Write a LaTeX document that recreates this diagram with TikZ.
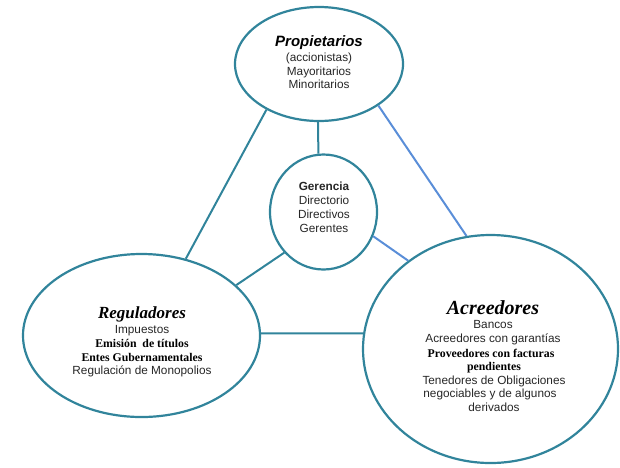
\documentclass[tikz,border=0pt]{standalone}
\usepackage{fontspec}
\setmainfont{Liberation Serif}
\setsansfont{Liberation Sans}
\usetikzlibrary{shapes.geometric}
\definecolor{rim}{HTML}{31849B}
\definecolor{link}{HTML}{5A8ED8}
\tikzset{
  party/.style={ellipse, draw=rim, line width=2.2pt, inner sep=0pt},
  teallink/.style={draw=rim, line width=2pt},
  bluelink/.style={draw=link, line width=2pt},
  sanstxt/.style={anchor=base, inner sep=0pt, text=black!85,
    font=\sffamily\fontsize{11.8}{13}\selectfont},
  boldtxt/.style={anchor=base, inner sep=0pt,
    font=\rmfamily\bfseries\fontsize{11.8}{13}\selectfont},
}
\begin{document}
\begin{tikzpicture}[x=1pt, y=-1pt]
  \useasboundingbox (0,0) rectangle (620,467);

  % the four groups
  \node[party, minimum width=168pt, minimum height=114pt] (prop) at (319,64) {};
  \node[party, minimum width=107pt, minimum height=115pt] (ger)  at (323.5,212) {};
  \node[party, minimum width=237pt, minimum height=163pt] (reg)  at (141.5,335.5) {};
  \node[party, minimum width=255pt, minimum height=228pt] (acr)  at (490.5,349) {};

  % connectors
  \draw[teallink] (prop.221) -- (reg.60);
  \draw[teallink] (prop.269) -- (ger.95);
  \draw[bluelink] (prop.325) -- (acr.102);
  \draw[teallink] (ger.226) -- (reg.28);
  \draw[bluelink] (ger.334) -- (acr.133);
  \draw[teallink] (reg.1) -- (acr.173);

  % Propietarios
  \node[anchor=base, inner sep=0pt, font=\sffamily\bfseries\itshape\fontsize{15}{18}\selectfont]
    (propT) at (319,46) {Propietarios};
  \node[sanstxt] (prop1) at (319,61) {(accionistas)};
  \node[sanstxt] (prop2) at (319,75) {Mayoritarios};
  \node[sanstxt] (prop3) at (319,88) {Minoritarios};

  % Gerencia
  \node[sanstxt, font=\sffamily\bfseries\fontsize{11.8}{13}\selectfont] (gerT) at (324,190) {Gerencia};
  \node[sanstxt] (ger1) at (324,204) {Directorio};
  \node[sanstxt] (ger2) at (324,218) {Directivos};
  \node[sanstxt] (ger3) at (324,232) {Gerentes};

  % Reguladores
  \node[anchor=base, inner sep=0pt, font=\rmfamily\bfseries\itshape\fontsize{17}{20}\selectfont]
    (regT) at (142,318) {Reguladores};
  \node[sanstxt] (reg1) at (142,333) {Impuestos};
  \node[boldtxt] (reg2) at (142,347) {Emisión\ \ de títulos};
  \node[boldtxt] (reg3) at (142,361) {Entes Gubernamentales};
  \node[sanstxt] (reg4) at (142,374) {Regulación de Monopolios};

  % Acreedores
  \node[anchor=base, inner sep=0pt, font=\rmfamily\bfseries\itshape\fontsize{20}{24}\selectfont]
    (acrT) at (493,314) {Acreedores};
  \node[sanstxt] (acr1) at (493,328) {Bancos};
  \node[sanstxt] (acr2) at (493,342) {Acreedores con garantías};
  \node[boldtxt] (acr3) at (491,357) {Proveedores con facturas};
  \node[boldtxt] (acr4) at (494,370) {pendientes};
  \node[sanstxt] (acr5) at (494,384) {Tenedores de Obligaciones};
  \node[sanstxt] (acr6) at (490,397) {negociables y de algunos};
  \node[sanstxt] (acr7) at (494,411) {derivados};
\end{tikzpicture}
\end{document}
